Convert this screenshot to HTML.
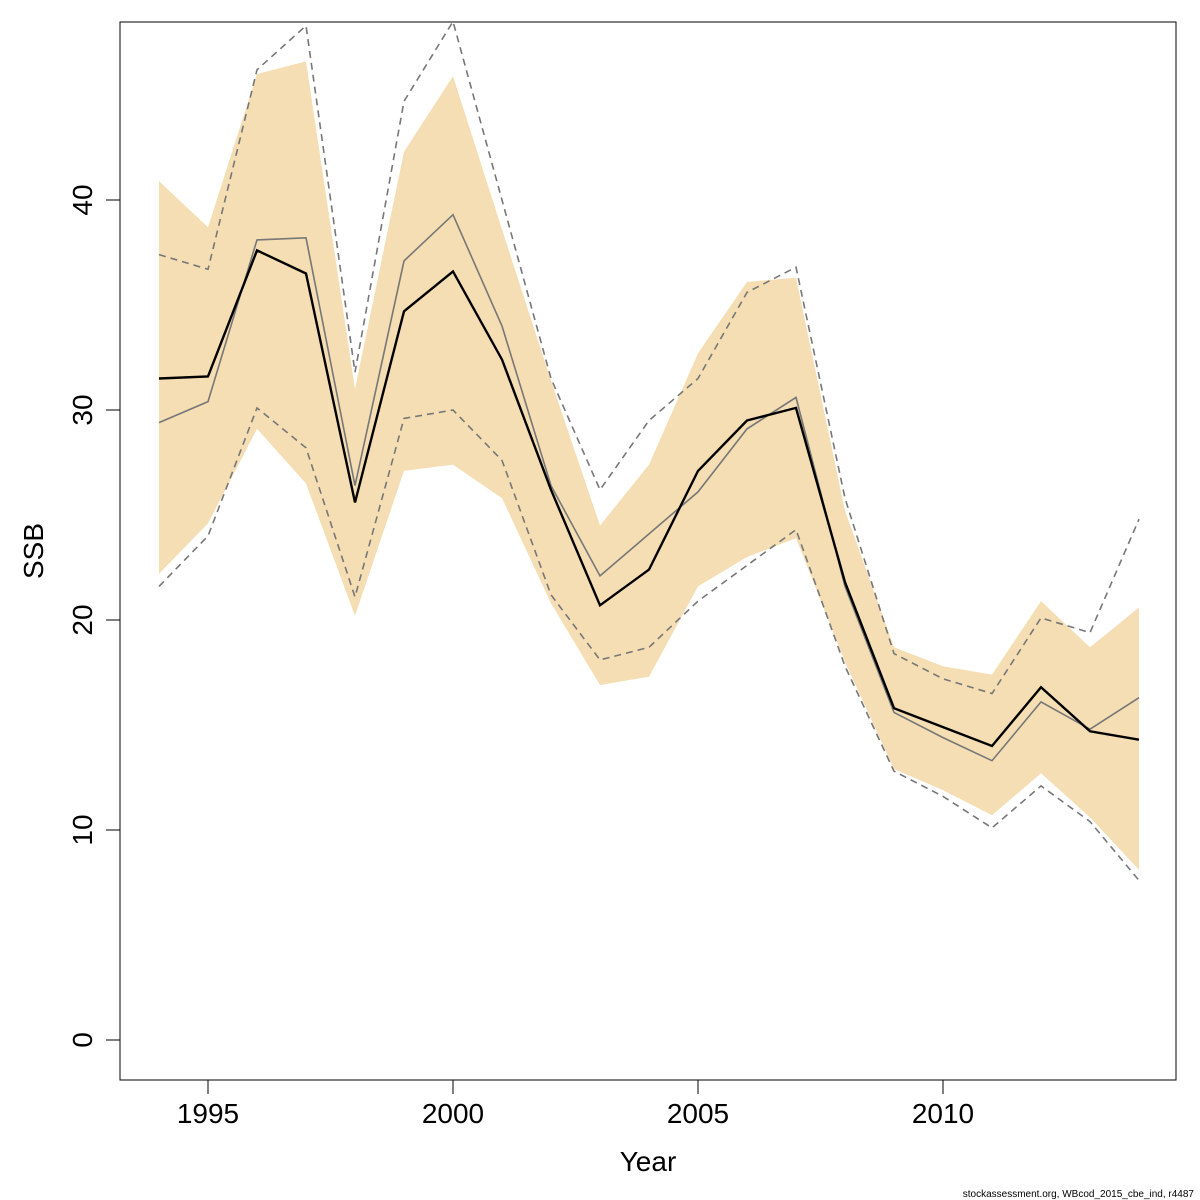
<!DOCTYPE html>
<html><head><meta charset="utf-8"><style>
html,body{margin:0;padding:0;background:#fff;}
svg{display:block;font-family:"Liberation Sans","DejaVu Sans",sans-serif;}
</style></head><body>
<svg id="chart" width="1200" height="1200" viewBox="0 0 1200 1200" xmlns="http://www.w3.org/2000/svg">
<rect x="120" y="22" width="1056" height="1058" fill="none" stroke="#000" stroke-width="1"/>
<text x="648" y="1171" font-size="28" text-anchor="middle">Year</text>
<text transform="translate(43,551) rotate(-90)" font-size="28" text-anchor="middle">SSB</text>
<text x="1194" y="1197" font-size="10" text-anchor="end">stockassessment.org, WBcod_2015_cbe_ind, r4487</text>
</svg>
<script>
const years=[1994,1995,1996,1997,1998,1999,2000,2001,2002,2003,2004,2005,2006,2007,2008,2009,2010,2011,2012,2013,2014];
const ssb=[31.5,31.6,37.6,36.5,25.6,34.7,36.6,32.4,26.2,20.7,22.4,27.1,29.5,30.1,21.8,15.8,14.9,14.0,16.8,14.7,14.3];
const ssbAlt=[29.4,30.4,38.1,38.2,26.4,37.1,39.3,34.0,26.4,22.1,24.1,26.1,29.1,30.6,21.6,15.6,14.4,13.3,16.1,14.8,16.3];
const altUpper=[37.4,36.7,46.2,48.3,31.8,44.7,48.5,40.0,31.5,26.2,29.5,31.5,35.6,36.8,25.8,18.4,17.2,16.5,20.1,19.4,24.8];
const altLower=[21.6,24.0,30.1,28.2,21.1,29.6,30.0,27.6,21.2,18.1,18.7,20.9,22.6,24.3,17.8,12.8,11.6,10.1,12.1,10.4,7.6];
const bandUpper=[40.9,38.7,46.0,46.6,31.0,42.3,45.9,38.6,31.4,24.5,27.4,32.7,36.1,36.3,25.2,18.7,17.8,17.4,20.9,18.7,20.6];
const bandLower=[22.2,24.6,29.1,26.5,20.2,27.1,27.4,25.8,20.8,16.9,17.3,21.6,23.0,23.9,18.0,12.9,11.9,10.7,12.7,10.6,8.1];
const xTicks=[1995,2000,2005,2010];
const yTicks=[0,10,20,30,40];

const NS="http://www.w3.org/2000/svg";
const svg=document.getElementById('chart');
const X=v=>208+(v-1995)*49;
const Y=v=>1040-v*21;
function mk(tag,attrs){const e=document.createElementNS(NS,tag);for(const k in attrs)e.setAttribute(k,attrs[k]);return e;}
const frame=svg.querySelector('rect');

// band
const bandPts=years.map((y,i)=>X(y)+','+Y(bandUpper[i])).concat(years.slice().reverse().map((y,j)=>X(y)+','+Y(bandLower[years.length-1-j])));
const band=mk('polygon',{points:bandPts.join(' '),fill:'#f5deb3',stroke:'none'});


svg.insertBefore(band,frame);

function line(vals,stroke,w,dash,name){
  const p=mk('polyline',{points:years.map((y,i)=>X(y)+','+Y(vals[i])).join(' '),fill:'none',stroke:stroke,'stroke-width':w});
  if(dash)p.setAttribute('stroke-dasharray',dash);
  
  
  svg.appendChild(p);
}
line(altUpper,'#777',1.6,'7,5','alt-upper-dashed');
line(altLower,'#777',1.6,'7,5','alt-lower-dashed');
line(ssbAlt,'#777',1.6,null,'ssb-alt-line');
line(ssb,'#000',2.4,null,'ssb-line');

// x axis
svg.appendChild(mk('line',{x1:X(1995),x2:X(2010),y1:1080,y2:1080,stroke:'#000'}));
xTicks.forEach(t=>{
  const l=mk('line',{x1:X(t),x2:X(t),y1:1080,y2:1094,stroke:'#000'});
  
  
  svg.appendChild(l);
  const tx=mk('text',{x:X(t),y:1123,'font-size':28,'text-anchor':'middle'});
  tx.textContent=t;
  
  
  svg.appendChild(tx);
});
// y axis
yTicks.forEach(t=>{
  const l=mk('line',{x1:106,x2:120,y1:Y(t),y2:Y(t),stroke:'#000'});
  
  
  svg.appendChild(l);
  const tx=mk('text',{transform:'translate(92,'+Y(t)+') rotate(-90)','font-size':28,'text-anchor':'middle'});
  tx.textContent=t;
  
  
  svg.appendChild(tx);
});
</script>
</body></html>
